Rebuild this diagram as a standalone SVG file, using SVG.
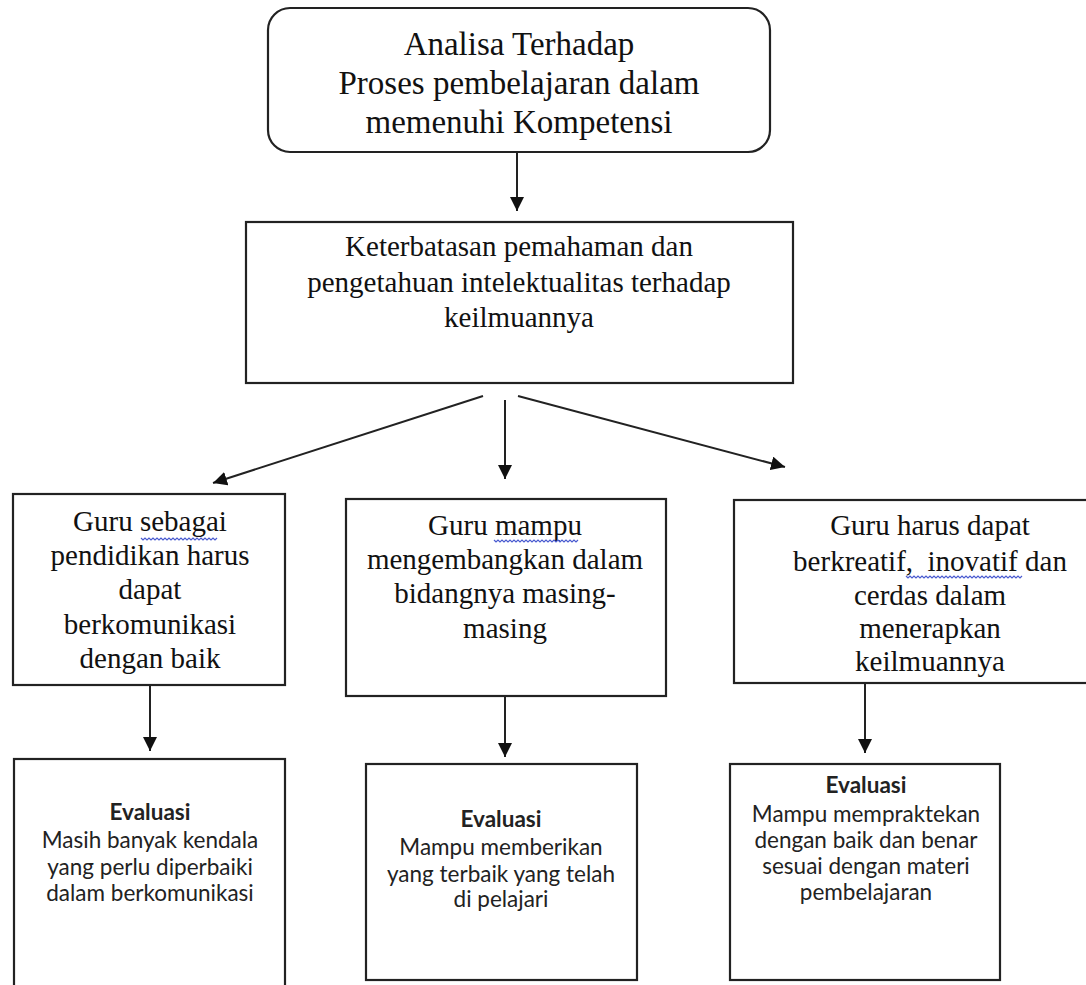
<svg xmlns="http://www.w3.org/2000/svg" width="1086" height="985" viewBox="0 0 1086 985">
<style>
.box{fill:#fff;stroke:#222;stroke-width:2.2}
.line{stroke:#222;stroke-width:2;fill:none}
.t1{font-family:"Liberation Serif",serif;font-size:33px;fill:#111;text-anchor:middle}
.t2{font-family:"Liberation Serif",serif;font-size:29px;fill:#111;text-anchor:middle}
.t3{font-family:Lato,"Open Sans",sans-serif;font-size:22.5px;fill:#222;text-anchor:middle}
.b{font-weight:bold}
.wave{stroke:#4a5bd0;stroke-width:1.2;fill:none}
</style>
<defs>
<marker id="ah" viewBox="0 0 10 10" refX="10" refY="5" markerWidth="14" markerHeight="14" markerUnits="userSpaceOnUse" orient="auto">
<path d="M0,0 L10,5 L0,10 z" fill="#111"/>
</marker>
</defs>
<rect width="1086" height="985" fill="#fff"/>

<g id="connectors">
<line class="line" x1="517" y1="152" x2="517" y2="211" marker-end="url(#ah)"/>
<line class="line" x1="483" y1="396" x2="213" y2="483" marker-end="url(#ah)"/>
<line class="line" x1="505" y1="400" x2="505" y2="479" marker-end="url(#ah)"/>
<line class="line" x1="518" y1="396" x2="785" y2="467" marker-end="url(#ah)"/>
<line class="line" x1="150" y1="685" x2="150" y2="751" marker-end="url(#ah)"/>
<line class="line" x1="505" y1="686" x2="505" y2="757" marker-end="url(#ah)"/>
<line class="line" x1="865" y1="683" x2="865" y2="753" marker-end="url(#ah)"/>
</g>

<g id="n_top">
<rect class="box" x="268" y="8" width="502" height="144" rx="22" ry="22"/>
<text class="t1" x="519" y="55">Analisa Terhadap</text>
<text class="t1" x="519" y="94">Proses pembelajaran dalam</text>
<text class="t1" x="519" y="133">memenuhi Kompetensi</text>
</g>

<g id="n_mid">
<rect class="box" x="246" y="222" width="547" height="161"/>
<text class="t2" x="519" y="256">Keterbatasan pemahaman dan</text>
<text class="t2" x="519" y="292">pengetahuan intelektualitas terhadap</text>
<text class="t2" x="519" y="327">keilmuannya</text>
</g>

<g id="n_left">
<rect class="box" x="13" y="494" width="272" height="191"/>
<text class="t2" x="150" y="531">Guru sebagai</text>
<text class="t2" x="150" y="565">pendidikan harus</text>
<text class="t2" x="150" y="599">dapat</text>
<text class="t2" x="150" y="634">berkomunikasi</text>
<text class="t2" x="150" y="668">dengan baik</text>
<path class="wave" d="M141,538 l2,2 l2,-2 l2,2 l2,-2 l2,2 l2,-2 l2,2 l2,-2 l2,2 l2,-2 l2,2 l2,-2 l2,2 l2,-2 l2,2 l2,-2 l2,2 l2,-2 l2,2 l2,-2 l2,2 l2,-2 l2,2 l2,-2 l2,2 l2,-2 l2,2 l2,-2 l2,2 l2,-2 l2,2 l2,-2 l2,2 l2,-2 l2,2 l2,-2 l2,2 l2,-2"/>
</g>

<g id="n_center">
<rect class="box" x="346" y="499" width="320" height="197"/>
<text class="t2" x="505" y="535">Guru mampu</text>
<text class="t2" x="505" y="569">mengembangkan dalam</text>
<text class="t2" x="505" y="603">bidangnya masing-</text>
<text class="t2" x="505" y="638">masing</text>
<path class="wave" d="M494,540 l2,2 l2,-2 l2,2 l2,-2 l2,2 l2,-2 l2,2 l2,-2 l2,2 l2,-2 l2,2 l2,-2 l2,2 l2,-2 l2,2 l2,-2 l2,2 l2,-2 l2,2 l2,-2 l2,2 l2,-2 l2,2 l2,-2 l2,2 l2,-2 l2,2 l2,-2 l2,2 l2,-2 l2,2 l2,-2 l2,2 l2,-2 l2,2 l2,-2 l2,2 l2,-2 l2,2 l2,-2 l2,2 l2,-2"/>
</g>

<g id="n_right">
<rect class="box" x="734" y="500" width="360" height="183"/>
<text class="t2" x="930" y="535">Guru harus dapat</text>
<text class="t2" x="930" y="571" xml:space="preserve">berkreatif,  inovatif dan</text>
<text class="t2" x="930" y="605">cerdas dalam</text>
<text class="t2" x="930" y="638">menerapkan</text>
<text class="t2" x="930" y="671">keilmuannya</text>
<path class="wave" d="M906,576 l2,2 l2,-2 l2,2 l2,-2 l2,2 l2,-2 l2,2 l2,-2 l2,2 l2,-2 l2,2 l2,-2 l2,2 l2,-2 l2,2 l2,-2 l2,2 l2,-2 l2,2 l2,-2 l2,2 l2,-2 l2,2 l2,-2 l2,2 l2,-2 l2,2 l2,-2 l2,2 l2,-2 l2,2 l2,-2 l2,2 l2,-2 l2,2 l2,-2 l2,2 l2,-2 l2,2 l2,-2 l2,2 l2,-2 l2,2 l2,-2 l2,2 l2,-2 l2,2 l2,-2 l2,2 l2,-2 l2,2 l2,-2 l2,2 l2,-2 l2,2 l2,-2 l2,2 l2,-2"/>
</g>

<g id="e_left">
<rect class="box" x="14" y="759" width="271" height="240"/>
<text class="t3 b" x="150" y="820">Evaluasi</text>
<text class="t3" x="150" y="848">Masih banyak kendala</text>
<text class="t3" x="150" y="875">yang perlu diperbaiki</text>
<text class="t3" x="150" y="901">dalam berkomunikasi</text>
</g>

<g id="e_center">
<rect class="box" x="366" y="764" width="271" height="216"/>
<text class="t3 b" x="501" y="827">Evaluasi</text>
<text class="t3" x="501" y="855">Mampu memberikan</text>
<text class="t3" x="501" y="882">yang terbaik yang telah</text>
<text class="t3" x="501" y="907">di pelajari</text>
</g>

<g id="e_right">
<rect class="box" x="730" y="764" width="270" height="216"/>
<text class="t3 b" x="866" y="793">Evaluasi</text>
<text class="t3" x="866" y="822">Mampu mempraktekan</text>
<text class="t3" x="866" y="848">dengan baik dan benar</text>
<text class="t3" x="866" y="874">sesuai dengan materi</text>
<text class="t3" x="866" y="900">pembelajaran</text>
</g>
</svg>
